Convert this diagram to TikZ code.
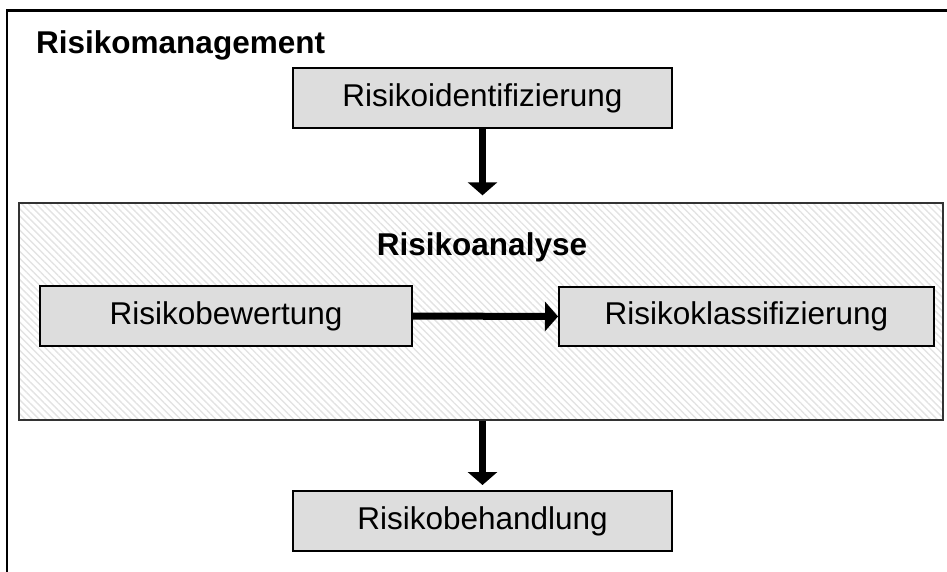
\documentclass[tikz,border=0pt]{standalone}
\usepackage{fontspec}
\setmainfont{Liberation Sans}
\usetikzlibrary{arrows.meta,patterns.meta}
\definecolor{boxgray}{HTML}{DDDDDD}
\begin{document}
\begin{tikzpicture}[x=1pt,y=-1pt,
  txt/.style={font=\fontsize{31.5}{36}\selectfont},
  procbox/.style={draw=black,line width=2pt,fill=boxgray,inner sep=0pt,txt},
  bigarrow/.style={line width=7pt,-{Triangle[width=29pt,length=13pt]}}]
\useasboundingbox (0,0) rectangle (947,571);
\begin{scope}
\clip (0,0) rectangle (947,571);
\draw[line width=2.8pt] (970,10.5) -- (7,10.5) -- (7,590);
\end{scope}
\node[txt,font=\fontsize{31.5}{36}\selectfont\bfseries,anchor=base west,inner sep=0pt] (rm) at (36,53) {Risikomanagement};
\node[procbox,minimum width=379pt,minimum height=60pt] (ident) at (482.5,98) {Risikoidentifizierung};
\node[draw=black!80,line width=2pt,fill=white,pattern={Lines[angle=-45,distance=5pt,line width=1.4pt]},pattern color=black!11,minimum width=924pt,minimum height=217pt,inner sep=0pt] (ana) at (481,311.5) {};
\node[txt,font=\fontsize{31.5}{36}\selectfont\bfseries,anchor=base,inner sep=0pt] (anat) at (482,255) {Risikoanalyse};
\node[procbox,minimum width=372pt,minimum height=60pt] (bew) at (226,316) {Risikobewertung};
\node[procbox,minimum width=375pt,minimum height=59pt] (kla) at (746.5,316.5) {Risikoklassifizierung};
\node[procbox,minimum width=379pt,minimum height=60pt] (beh) at (482.5,521) {Risikobehandlung};
\draw[bigarrow,shorten >=7pt] (ident.south) -- (ident.south |- ana.north);
\draw[bigarrow] (bew.east) -- (kla.west);
\draw[bigarrow,shorten >=5pt] (ana.south -| beh.north) -- (beh.north);
\end{tikzpicture}
\end{document}
